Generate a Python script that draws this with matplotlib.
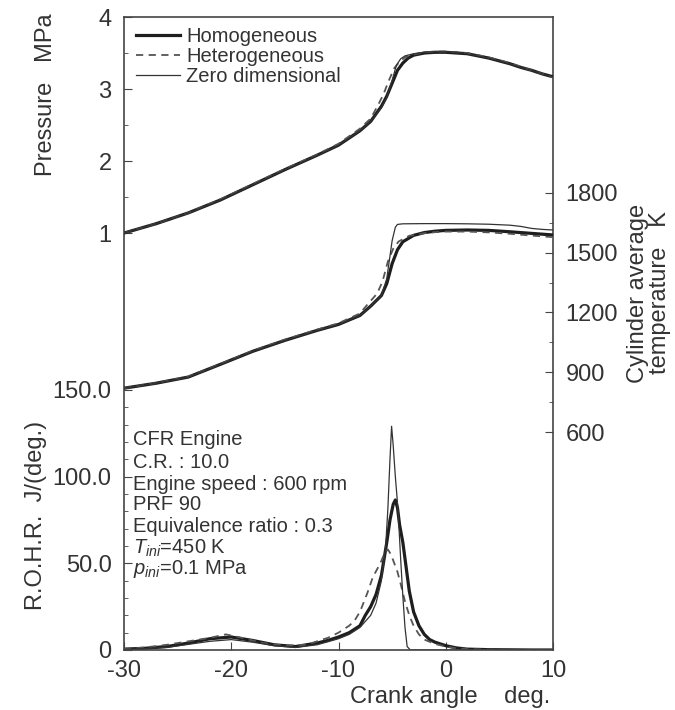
import matplotlib
matplotlib.use("Agg")
import matplotlib.pyplot as plt
from matplotlib.ticker import FixedLocator

plt.rcParams['font.family'] = ['Liberation Sans', 'DejaVu Sans']
plt.rcParams['mathtext.fontset'] = 'custom'
plt.rcParams['mathtext.rm'] = 'Liberation Sans'
plt.rcParams['mathtext.it'] = 'Liberation Sans:italic'

# ---------------- data ----------------
series_names = ["Homogeneous", "Heterogeneous", "Zero dimensional"]

# Pressure (MPa)
p_angle_hom = [-30, -27, -24, -21, -18, -15, -12, -10, -8, -7, -6, -5.5, -5, -4.5, -4, -3.5, -3, -2, -1, 0, 1, 2, 3, 4, 5, 6, 7, 8, 9, 10]
p_hom = [1.00, 1.13, 1.28, 1.46, 1.67, 1.88, 2.08, 2.22, 2.42, 2.55, 2.76, 2.90, 3.08, 3.26, 3.36, 3.43, 3.47, 3.50, 3.51, 3.51, 3.50, 3.49, 3.46, 3.43, 3.39, 3.35, 3.30, 3.26, 3.21, 3.17]
p_angle_het = [-30, -27, -24, -21, -18, -15, -12, -10, -8, -7, -6.3, -5.8, -5.3, -4.8, -4.3, -3.8, -3, -2, -1, 0, 1, 2, 3, 4, 5, 6, 7, 8, 9, 10]
p_het = [1.00, 1.13, 1.28, 1.47, 1.68, 1.89, 2.09, 2.24, 2.45, 2.59, 2.78, 2.93, 3.12, 3.29, 3.38, 3.44, 3.48, 3.51, 3.52, 3.52, 3.51, 3.50, 3.47, 3.44, 3.40, 3.36, 3.31, 3.26, 3.21, 3.16]
p_angle_zero = [-30, -27, -24, -21, -18, -15, -12, -10, -8, -7, -6, -5.5, -5, -4.6, -4.2, -3.8, -3, -2, -1, 0, 1, 2, 3, 4, 5, 6, 7, 8, 9, 10]
p_zero = [1.00, 1.13, 1.28, 1.46, 1.67, 1.88, 2.08, 2.22, 2.42, 2.55, 2.74, 2.88, 3.12, 3.33, 3.42, 3.46, 3.49, 3.51, 3.52, 3.52, 3.51, 3.49, 3.46, 3.43, 3.39, 3.35, 3.30, 3.26, 3.21, 3.17]

# Cylinder average temperature (K)
t_angle_hom = [-30, -27, -24, -21, -18, -15, -12, -10, -8, -7, -6, -5.5, -5, -4.5, -4, -3, -2, -1, 0, 2, 4, 6, 8, 10]
t_hom = [820, 845, 876, 940, 1005, 1060, 1110, 1140, 1185, 1232, 1285, 1345, 1445, 1515, 1555, 1587, 1601, 1608, 1612, 1614, 1612, 1605, 1597, 1589]
t_angle_het = [-30, -27, -24, -21, -18, -15, -12, -10, -8, -7.3, -6.4, -5.9, -5.4, -4.9, -4.4, -3.4, -2, -1, 0, 2, 4, 6, 8, 10]
t_het = [820, 846, 878, 942, 1008, 1064, 1114, 1146, 1195, 1240, 1295, 1355, 1455, 1520, 1556, 1585, 1598, 1603, 1606, 1606, 1602, 1595, 1586, 1578]
t_angle_zero = [-30, -27, -24, -21, -18, -15, -12, -10, -8, -7, -6, -5.5, -5, -4.7, -4.5, -4, -2, 0, 2, 4, 6, 7, 8, 9, 10]
t_zero = [820, 845, 876, 940, 1005, 1060, 1110, 1140, 1185, 1232, 1285, 1370, 1560, 1628, 1642, 1645, 1646, 1646, 1645, 1643, 1638, 1632, 1622, 1617, 1614]

# Rate of heat release (J/deg.)
r_angle_hom = [-30, -28, -26, -24, -22, -20, -18, -16, -14, -12, -11, -10, -9, -8, -7.5, -7, -6.5, -6, -5.5, -5.2, -4.9, -4.7, -4.5, -4.3, -4.0, -3.7, -3.4, -3, -2.5, -2, -1.5, -1, 0, 1, 2, 4, 6, 8, 10]
r_hom = [0.5, 1, 2, 4, 6.5, 7.5, 5.5, 3, 2, 4, 5.5, 7.5, 10, 14, 20, 25, 32, 43, 62, 75, 84, 86.5, 82, 72, 62, 48, 34, 22, 14, 9, 6, 4.5, 2.5, 1.2, 0.5, 0.2, 0.1, 0, 0]
r_angle_het = [-30, -28, -26, -24, -22, -20.5, -19, -17, -15, -13, -12, -11, -10, -9, -8.5, -8, -7.3, -6.8, -6.1, -5.7, -5.4, -5.1, -4.8, -4.5, -4.2, -3.8, -3.4, -3, -2.5, -2, -1, 0, 1, 2, 4, 10]
r_het = [0.5, 1.5, 3, 5, 7, 9, 7, 4, 2.5, 3, 5, 7, 10, 14, 17, 22, 33, 42, 50, 56, 58, 55, 50, 45, 38, 28, 20, 14, 9, 6, 3.5, 2, 1, 0.5, 0.2, 0]
r_angle_zero = [-30, -26, -22, -20, -18, -16, -14, -12, -10, -9, -8, -7, -6.5, -6, -5.6, -5.4, -5.2, -5.05, -4.9, -4.7, -4.45, -4.2, -4.0, -3.8, -3.6, -3.3, -3, 0, 10]
r_zero = [0.3, 1.5, 5, 6, 4.5, 2.5, 1.5, 3, 6.5, 9, 13, 20, 27, 40, 60, 81, 110, 129, 118, 100, 81, 52, 31, 13, 2, 0, 0, 0, 0]

x_ticks = [-30, -20, -10, 0, 10]
p_ticks = [1, 2, 3, 4]
r_ticks = [0, 50, 100, 150]
r_tick_labels = ["0", "50.0", "100.0", "150.0"]
t_ticks = [600, 900, 1200, 1500, 1800]

# ---------------- figure ----------------
W, H = 675, 710
fig = plt.figure(figsize=(W / 100, H / 100), dpi=100)
rect = [124 / W, 60 / H, 429 / W, 633 / H]

txt_color = '#333333'
line_color = '#1e1e1e'
spine_color = '#444444'

styles = [dict(color=line_color, lw=2.3, ls='-'),
          dict(color='#555555', lw=1.3, ls=(0, (4, 3))),
          dict(color='#333333', lw=0.9, ls='-')]

# base axes: ROHR
ax = fig.add_axes(rect)
ax.set_xlim(-30, 10)
ax.set_ylim(0, 365)
for s in ax.spines.values():
    s.set_color(spine_color)
    s.set_linewidth(1.2)
ax.set_xticks(x_ticks)
ax.set_xticklabels([str(v) for v in x_ticks])
ax.yaxis.set_major_locator(FixedLocator(r_ticks))
ax.set_yticklabels(r_tick_labels)
ax.yaxis.set_minor_locator(FixedLocator([v for v in range(10, 150, 10) if v % 50]))
ax.tick_params(axis='both', which='both', direction='in', colors=spine_color,
               labelcolor=txt_color, labelsize=17, pad=9)
ax.tick_params(axis='x', which='major', pad=7)
ax.tick_params(axis='y', which='major', length=6)
ax.tick_params(axis='y', which='minor', length=3)
ax.tick_params(axis='x', which='major', length=6, top=False)

for xs, ys, st in zip([r_angle_hom, r_angle_het, r_angle_zero],
                      [r_hom, r_het, r_zero], styles):
    ax.plot(xs, ys, **st)

# pressure axes
axp = fig.add_axes(rect, sharex=ax)
axp.patch.set_visible(False)
for s in axp.spines.values():
    s.set_visible(False)
axp.set_ylim(-4.79, 4.0)
axp.yaxis.set_major_locator(FixedLocator(p_ticks))
axp.yaxis.set_minor_locator(FixedLocator([1.5, 2.5, 3.5]))
axp.set_yticklabels([str(v) for v in p_ticks])
axp.tick_params(axis='y', which='both', direction='in', colors=spine_color,
                labelcolor=txt_color, labelsize=17, pad=9)
axp.tick_params(axis='y', which='major', length=6)
axp.tick_params(axis='y', which='minor', length=3)
axp.tick_params(axis='x', which='both', bottom=False, labelbottom=False)

handles = []
for xs, ys, st, nm in zip([p_angle_hom, p_angle_het, p_angle_zero],
                          [p_hom, p_het, p_zero], styles, series_names):
    h, = axp.plot(xs, ys, label=nm, **st)
    handles.append(h)

# temperature axes (right)
axt = fig.add_axes(rect, sharex=ax)
axt.patch.set_visible(False)
for s in axt.spines.values():
    s.set_visible(False)
axt.set_ylim(-494, 2683)
axt.yaxis.tick_right()
axt.yaxis.set_major_locator(FixedLocator(t_ticks))
axt.yaxis.set_minor_locator(FixedLocator([750, 1050, 1350, 1650]))
axt.set_yticklabels([str(v) for v in t_ticks])
axt.tick_params(axis='y', which='both', direction='in', colors=spine_color,
                labelcolor=txt_color, labelsize=17, pad=9)
axt.tick_params(axis='y', which='major', length=6)
axt.tick_params(axis='y', which='minor', length=3)
axt.tick_params(axis='x', which='both', bottom=False, labelbottom=False)

for xs, ys, st in zip([t_angle_hom, t_angle_het, t_angle_zero],
                      [t_hom, t_het, t_zero], styles):
    axt.plot(xs, ys, **st)

# legend
leg = axp.legend(handles=handles, loc='upper left', bbox_to_anchor=(0.018, 0.99),
                 frameon=False, fontsize=14.5, handlelength=2.2, handletextpad=0.3,
                 labelspacing=0.05, borderpad=0.2, borderaxespad=0)
for t in leg.get_texts():
    t.set_color(txt_color)

# annotation
notes = ["CFR Engine", "C.R. : 10.0", "Engine speed : 600 rpm", "PRF 90",
         "Equivalence ratio : 0.3", r"$T_{ini}$=450 K", r"$p_{ini}$=0.1 MPa"]
note_y = [440, 462, 484, 505, 527, 548, 569]
for s, yy in zip(notes, note_y):
    fig.text(133 / W, 1 - yy / H, s, fontsize=14.5, color=txt_color,
             ha='left', va='center')

# axis labels
fig.text(46 / W, 1 - 95 / H, "Pressure   MPa", rotation=90, fontsize=17,
         color=txt_color, ha='center', va='center')
fig.text(36 / W, 1 - 515 / H, "R.O.H.R.  J/(deg.)", rotation=90, fontsize=17,
         color=txt_color, ha='center', va='center')
fig.text(649 / W, 1 - 293 / H, "Cylinder average\ntemperature   K", rotation=90,
         fontsize=17, color=txt_color, ha='center', va='center', linespacing=0.95,
         multialignment='center')
fig.text(450 / W, 2 / H, "Crank angle    deg.", fontsize=17,
         color=txt_color, ha='center', va='bottom')

fig.savefig("out.png", dpi=100)
